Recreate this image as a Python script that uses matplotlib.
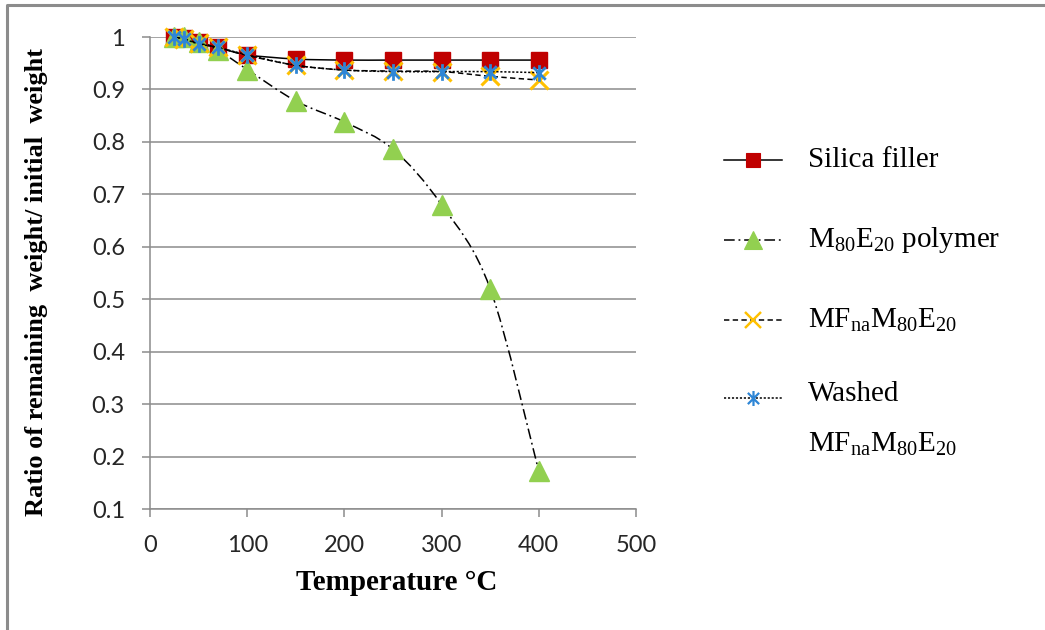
import numpy as np
import matplotlib
matplotlib.use("Agg")
import matplotlib.pyplot as plt
from matplotlib.path import Path
from matplotlib.patches import PathPatch
from matplotlib.lines import Line2D

plt.rcParams['mathtext.fontset'] = 'custom'
plt.rcParams['mathtext.rm'] = 'Liberation Serif'
plt.rcParams['mathtext.default'] = 'rm'

# ---- data ----
temperature = [25, 35, 50, 70, 100, 150, 200, 250, 300, 350, 400]
silica_filler = [1.0, 0.998, 0.99, 0.98, 0.966, 0.958, 0.956, 0.956, 0.956, 0.956, 0.956]
m80e20_polymer = [1.0, 1.0, 0.99, 0.975, 0.938, 0.878, 0.838, 0.786, 0.68, 0.52, 0.172]
mfna_m80e20 = [1.0, 0.996, 0.988, 0.98, 0.965, 0.946, 0.937, 0.935, 0.934, 0.925, 0.918]
washed_mfna = [1.0, 0.996, 0.987, 0.98, 0.966, 0.946, 0.937, 0.934, 0.934, 0.934, 0.932]

labels = ["Silica filler",
          r"M$_{80}$E$_{20}$ polymer",
          r"MF$_{na}$M$_{80}$E$_{20}$",
          "Washed\n" + r"MF$_{na}$M$_{80}$E$_{20}$"]

x_ticks = [0, 100, 200, 300, 400, 500]
y_ticks = [0.1, 0.2, 0.3, 0.4, 0.5, 0.6, 0.7, 0.8, 0.9, 1.0]
y_tick_labels = ["0.1", "0.2", "0.3", "0.4", "0.5", "0.6", "0.7", "0.8", "0.9", "1"]

# asterisk marker like the spreadsheet "star"
star = Path([(0, -1), (0, 1), (-0.75, -0.75), (0.75, 0.75), (-0.75, 0.75), (0.75, -0.75)],
            [Path.MOVETO, Path.LINETO, Path.MOVETO, Path.LINETO, Path.MOVETO, Path.LINETO])

styles = [
    dict(marker='s', mfc='#C00000', mec='#C00000', ms=11, mew=1, dashes=None),
    dict(marker='^', mfc='#92D050', mec='#92D050', ms=14, mew=1, dashes=(7, 2.5, 1.2, 2.5)),
    dict(marker='x', mfc='#FFC000', mec='#FFC000', ms=13, mew=2.2, dashes=(3.5, 2.2)),
    dict(marker=star, mfc='#2E86D6', mec='#2E86D6', ms=12, mew=2.0, dashes=(1.4, 1.2)),
]


def smooth_path(x, y):
    """Cubic bezier through the points, like a spreadsheet smoothed line."""
    n = len(x)
    verts = [(x[0], y[0])]
    codes = [Path.MOVETO]
    for i in range(n - 1):
        a = max(i - 1, 0)
        b = min(i + 2, n - 1)
        c1 = (x[i] + (x[i + 1] - x[a]) / 6.0, y[i] + (y[i + 1] - y[a]) / 6.0)
        c2 = (x[i + 1] - (x[b] - x[i]) / 6.0, y[i + 1] - (y[b] - y[i]) / 6.0)
        verts += [c1, c2, (x[i + 1], y[i + 1])]
        codes += [Path.CURVE4] * 3
    return Path(verts, codes)


fig = plt.figure(figsize=(10.45, 6.3), dpi=100)
ax = fig.add_axes([150 / 1045, 1 - 509 / 630, 486 / 1045, 472 / 630])

series = [silica_filler, m80e20_polymer, mfna_m80e20, washed_mfna]
for k, (vals, st) in enumerate(zip(series, styles)):
    ls = '-' if st['dashes'] is None else (0, st['dashes'])
    patch = PathPatch(smooth_path(temperature, vals), fill=False, ec='black',
                      lw=1.1, linestyle=ls, zorder=3 + k, clip_on=False)
    ax.add_patch(patch)
    ax.plot(temperature, vals, linestyle='none', marker=st['marker'], ms=st['ms'],
            mfc=st['mfc'], mec=st['mec'], mew=st['mew'], zorder=3 + k, clip_on=False)

ax.set_xlim(0, 500)
ax.set_ylim(0.1, 1.0)
ax.set_xticks(x_ticks)
ax.set_yticks(y_ticks)
ax.set_yticklabels(y_tick_labels)
ax.grid(axis='y', color='#8C8C8C', lw=1.1)
ax.set_axisbelow(True)
for s in ['top', 'right']:
    ax.spines[s].set_visible(False)
for s in ['left', 'bottom']:
    ax.spines[s].set_color('#8C8C8C')
    ax.spines[s].set_linewidth(1.1)
ax.tick_params(axis='both', colors='#8C8C8C', length=6, width=1.1, labelcolor='#262626')
ax.tick_params(axis='x', pad=13)
ax.tick_params(axis='y', pad=12)
for t in ax.get_xticklabels() + ax.get_yticklabels():
    t.set_fontfamily('Lato')
    t.set_fontsize(17)

fig.text(397 / 1045, 1 - 583 / 630, "Temperature °C", ha='center', va='center',
         fontfamily='Liberation Serif', fontweight='bold', fontsize=21)
fig.text(37 / 1045, 1 - 282 / 630, "Ratio of remaining  weight/ initial  weight",
         ha='center', va='center', rotation=90,
         fontfamily='Liberation Serif', fontweight='bold', fontsize=19)

# legend drawn by hand so the two-line entry keeps its handle on the first line
leg_y = [160, 240, 320, 398]
for st, lab, yy in zip(styles, labels, leg_y):
    fy = 1 - yy / 630
    ls = '-' if st['dashes'] is None else (0, st['dashes'])
    fig.add_artist(Line2D([724 / 1045, 782 / 1045], [fy, fy], transform=fig.transFigure,
                          color='black', lw=1.1, linestyle=ls))
    fig.add_artist(Line2D([753 / 1045], [fy], transform=fig.transFigure, linestyle='none',
                          marker=st['marker'], ms=st['ms'] * 0.9, mfc=st['mfc'],
                          mec=st['mec'], mew=st['mew'] * 0.8))
    if '\n' in lab:
        fig.text(808 / 1045, 1 - 381 / 630, lab, ha='left', va='top',
                 fontfamily='Liberation Serif', fontsize=21, linespacing=2.15)
    else:
        fig.text(808 / 1045, fy, lab, ha='left', va='center',
                 fontfamily='Liberation Serif', fontsize=21)

# outer chart frame (left and top edges visible)
fx = 7 / 1045
fy = 1 - 5 / 630
fig.add_artist(Line2D([fx, fx, 1.0], [0.0, fy, fy], transform=fig.transFigure,
                      color='#8C8C8C', lw=2.2))

fig.savefig("out.png", dpi=100)
